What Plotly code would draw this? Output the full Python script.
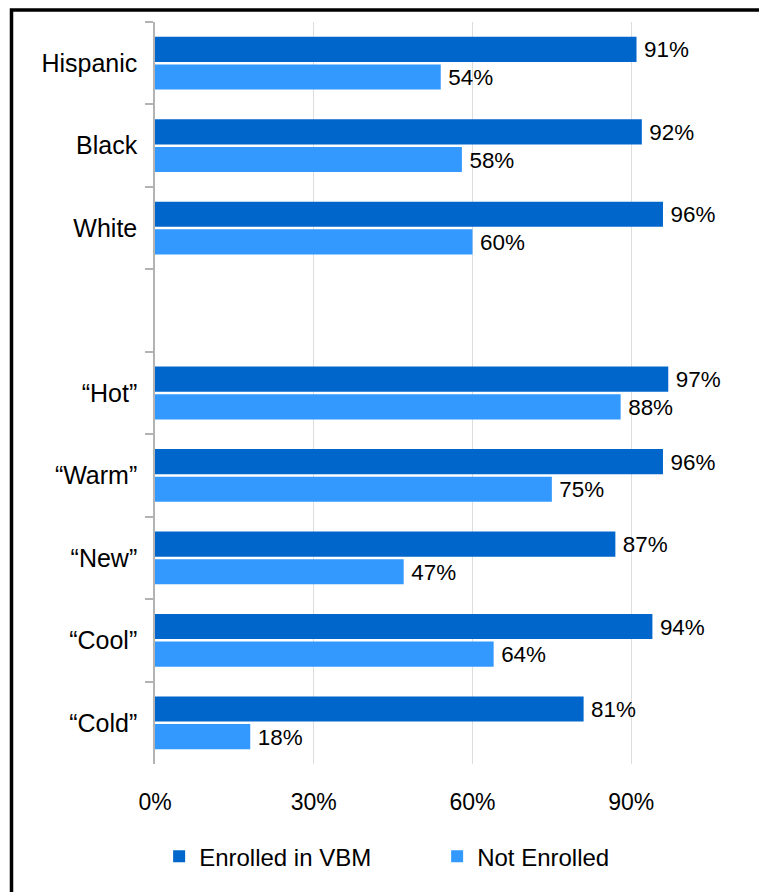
import plotly.graph_objects as go

categories = ["Hispanic", "Black", "White", " ", "“Hot”", "“Warm”", "“New”", "“Cool”", "“Cold”"]
enrolled = [91, 92, 96, None, 97, 96, 87, 94, 81]
not_enrolled = [54, 58, 60, None, 88, 75, 47, 64, 18]
x_ticks = [0, 30, 60, 90]
x_tick_labels = ["0%", "30%", "60%", "90%"]

FONT = "Liberation Sans, Arial, sans-serif"

def labels(vals):
    return ["\u2009" + f"{v}%" if v is not None else "" for v in vals]

fig = go.Figure()
fig.add_trace(go.Bar(
    y=categories, x=enrolled, orientation="h", name="Enrolled in VBM",
    marker=dict(color="#0066CC", line=dict(width=0)),
    text=labels(enrolled),
    textposition="outside", textfont=dict(size=25, color="black", family=FONT),
    cliponaxis=False,
))
fig.add_trace(go.Bar(
    y=categories, x=not_enrolled, orientation="h", name="Not Enrolled",
    marker=dict(color="#3399FF", line=dict(width=0)),
    text=labels(not_enrolled),
    textposition="outside", textfont=dict(size=25, color="black", family=FONT),
    cliponaxis=False,
))

# page is offset by ~8px (body margin): figure coords = page coords - 8
fig.update_layout(
    width=767, height=892,
    margin=dict(l=147, r=30, t=14, b=136),
    paper_bgcolor="white", plot_bgcolor="white",
    barmode="group", bargap=0.33, bargroupgap=0.09,
    font=dict(family=FONT, size=23, color="black"),
    showlegend=True,
    legend=dict(orientation="h", x=0.007, xanchor="left", y=-0.125, yanchor="middle",
                font=dict(size=24, family=FONT), entrywidth=233, entrywidthmode="pixels",
                traceorder="normal"),
)
fig.update_xaxes(
    range=[0, 111.5], tickvals=x_ticks, ticktext=x_tick_labels,
    showgrid=True, gridcolor="#DDDDDD", gridwidth=1,
    zeroline=False, showline=False, ticks="", ticklabelstandoff=22,
    tickfont=dict(size=23, family=FONT),
)
fig.update_yaxes(
    categoryorder="array", categoryarray=categories, autorange="reversed",
    showline=True, linecolor="#B3B3B3", linewidth=1.5,
    ticks="outside", tickson="boundaries", ticklen=8, tickcolor="#B3B3B3", tickwidth=1.5,
    showgrid=False, ticklabelstandoff=11,
    tickfont=dict(size=25, family=FONT),
)

fig.add_shape(type="rect", xref="paper", yref="paper",
              x0=(11.5 - 155) / 590, x1=(763.5 - 155) / 590,
              y0=-0.3, y1=(764 - 10) / 742,
              line=dict(color="black", width=3.5), fillcolor="rgba(0,0,0,0)", layer="below")

fig.write_html("out.html")
